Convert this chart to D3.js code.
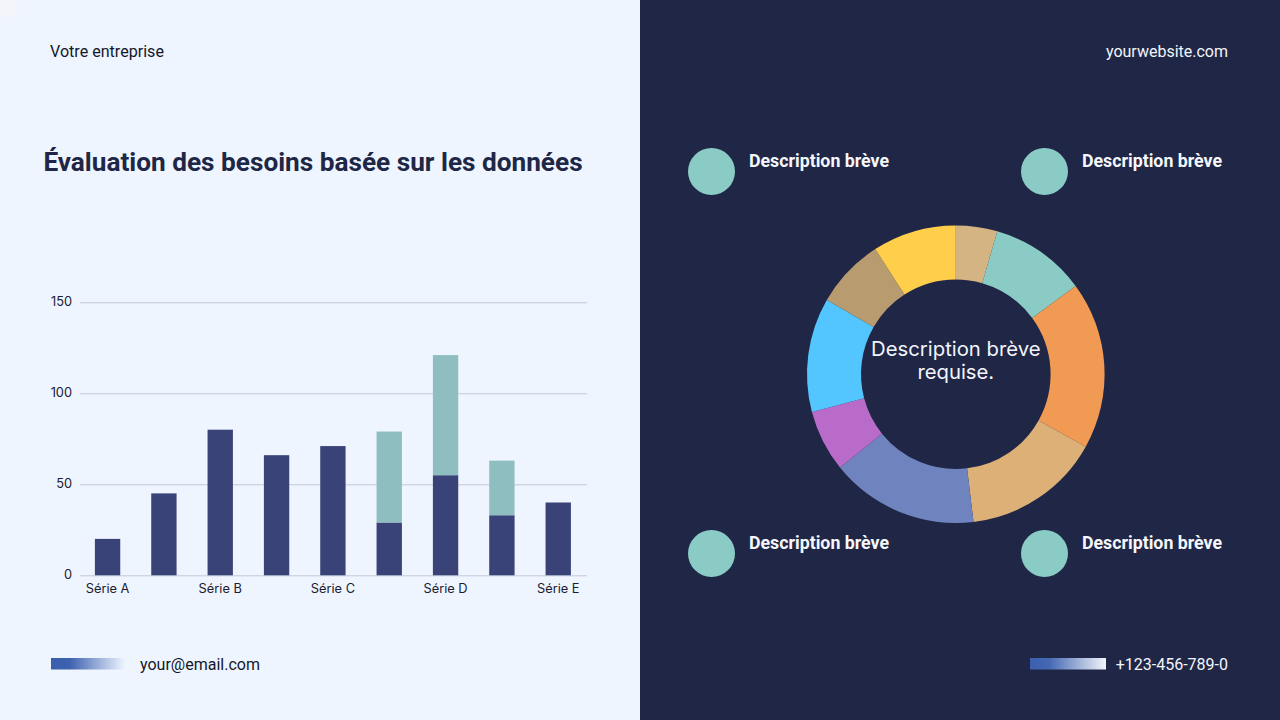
<!DOCTYPE html>
<html>
<head>
	<meta charset="utf-8">
	<title>Évaluation des besoins</title>
	<style>
		html, body { margin: 0; padding: 0; background: #EEF5FF; }
		svg { display: block; }
		text { font-family: Roboto, sans-serif; }
		.axis text { font-family: Inter, sans-serif; font-size: 12.8px; fill: #1B2030; }
		.axis path { display: none; }
		.axis line { stroke: #C2C9D8; stroke-width: 1; }
	</style>
</head>
<body>

<svg id="container" width="1280" height="720"></svg>

<script src="https://d3js.org/d3.v7.min.js"></script>
<script>
	// Bar chart data
	const barLabels = ['Série A', '', 'Série B', '', 'Série C', '', 'Série D', '', 'Série E']
	const lowerValues = [20, 45, 80, 66, 71, 29, 55, 33, 40]
	const upperValues = [0, 0, 0, 0, 0, 50, 66, 30, 0]
	const yTicks = [0, 50, 100, 150]

	// Donut data, clockwise from the top
	const sliceValues = [4.5, 10.4, 18.2, 15, 16.1, 6.7, 12.4, 7.6, 9.1]
	const sliceColors = ['#D4B483', '#8ACBC6', '#F09A54', '#DDB077', '#6F83BE', '#B96BC9', '#54C6FF', '#B89B6F', '#FFCE4A']

	const svg = d3.select('#container')

	// Two background panels
	svg.append('rect').attr('width', 640).attr('height', 720).attr('fill', '#EEF5FF')
	svg.append('rect').attr('x', 640).attr('width', 640).attr('height', 720).attr('fill', '#202645')
	svg.append('rect').attr('width', 17).attr('height', 17).attr('fill', '#F3F5FB')

	// Gradients for the little strips in the footer
	const defs = svg.append('defs')
	const fadeLight = defs.append('linearGradient').attr('id', 'fade-light')
	fadeLight.append('stop').attr('offset', '0%').attr('stop-color', '#3A5FAE')
	fadeLight.append('stop').attr('offset', '25%').attr('stop-color', '#3F62AF')
	fadeLight.append('stop').attr('offset', '100%').attr('stop-color', '#EEF5FF')
	const fadeDark = defs.append('linearGradient').attr('id', 'fade-dark')
	fadeDark.append('stop').attr('offset', '0%').attr('stop-color', '#3A5FAE')
	fadeDark.append('stop').attr('offset', '25%').attr('stop-color', '#4568B2')
	fadeDark.append('stop').attr('offset', '100%').attr('stop-color', '#F2F5FA')

	svg.append('rect').attr('x', 51).attr('y', 658).attr('width', 74).attr('height', 11.5).attr('fill', 'url(#fade-light)')
	svg.append('rect').attr('x', 1030).attr('y', 658).attr('width', 76).attr('height', 11.5).attr('fill', 'url(#fade-dark)')

	// Header, title and footer text
	svg.append('text').text('Votre entreprise')
		.attr('x', 50).attr('y', 57).attr('font-size', 16.1).attr('fill', '#14182A')
	svg.append('text').text('yourwebsite.com')
		.attr('x', 1228).attr('y', 57).attr('font-size', 16).attr('text-anchor', 'end').attr('fill', '#F2F5FC')
	svg.append('text').text('Évaluation des besoins basée sur les données')
		.attr('x', 313).attr('y', 171).attr('font-size', 26.2).attr('font-weight', 700)
		.attr('text-anchor', 'middle').attr('fill', '#202645')
	svg.append('text').text('your@email.com')
		.attr('x', 140).attr('y', 670).attr('font-size', 16).attr('fill', '#14182A')
	svg.append('text').text('+123-456-789-0')
		.attr('x', 1228).attr('y', 670).attr('font-size', 16).attr('text-anchor', 'end').attr('fill', '#F2F5FC')

	// Scales for the bars
	const xScale = d3.scaleBand()
		.domain(d3.range(barLabels.length))
		.range([79.4, 586.4])
		.paddingInner(0.55)
		.paddingOuter(0.275)
	const yScale = d3.scaleLinear()
		.domain([0, 150])
		.range([575.3, 302.3])

	// Gridlines come from the y axis tick lines
	svg.append('g')
		.attr('class', 'axis')
		.attr('transform', 'translate(80, 0)')
		.call(d3.axisLeft(yScale).tickValues(yTicks).tickSize(-507).tickPadding(8))
		.call(g => g.selectAll('text').attr('dy', '0.28em'))

	// Only every other bar has a label
	svg.append('g')
		.attr('class', 'axis')
		.attr('transform', 'translate(0, 576)')
		.call(d3.axisBottom(xScale).tickFormat(i => barLabels[i]).tickSize(0).tickPadding(8))

	svg.append('g')
		.selectAll('rect')
		.data(lowerValues)
		.enter()
		.append('rect')
		.attr('x', (d, i) => xScale(i))
		.attr('y', d => yScale(d))
		.attr('width', xScale.bandwidth())
		.attr('height', d => yScale(0) - yScale(d))
		.attr('fill', '#3A4377')

	// Upper part sits on top of the lower value, zero means no segment
	svg.append('g')
		.selectAll('rect')
		.data(upperValues)
		.enter()
		.append('rect')
		.attr('x', (d, i) => xScale(i))
		.attr('y', (d, i) => yScale(lowerValues[i] + d))
		.attr('width', xScale.bandwidth())
		.attr('height', d => yScale(0) - yScale(d))
		.attr('fill', '#8FBEC1')

	// Donut
	const pie = d3.pie().sort(null)
	const arc = d3.arc().innerRadius(94.8).outerRadius(148.8)
	const donut = svg.append('g').attr('transform', 'translate(955.8, 374.2)')

	donut.selectAll('path')
		.data(pie(sliceValues))
		.enter()
		.append('path')
		.attr('d', arc)
		.attr('fill', (d, i) => sliceColors[i])

	donut.selectAll('text')
		.data(['Description brève', 'requise.'])
		.enter()
		.append('text')
		.text(d => d)
		.attr('y', (d, i) => -25.5 + i * 23.5)
		.attr('dy', '0.35em')
		.attr('text-anchor', 'middle')
		.attr('font-size', 20.3)
		.attr('fill', '#F2F5FC')
		.style('font-family', 'Inter, sans-serif')

	// Four callouts around the donut
	const calloutX = [711.5, 1044.5]
	const calloutY = [171.5, 553.5]
	calloutY.forEach(cy => {
		calloutX.forEach(cx => {
			svg.append('circle')
				.attr('cx', cx).attr('cy', cy).attr('r', 23.5)
				.attr('fill', '#8ACBC6')
			svg.append('text').text('Description brève')
				.attr('x', cx + 37.5).attr('y', cy - 5)
				.attr('font-size', 17.75).attr('font-weight', 700)
				.attr('fill', '#F5F7FC')
		})
	})
</script>
</body>
</html>
